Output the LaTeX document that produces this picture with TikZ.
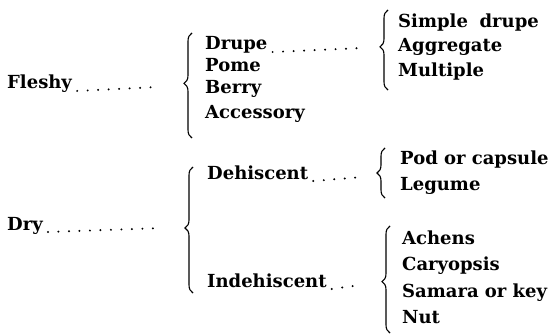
\documentclass[tikz,border=0pt]{standalone}
\usepackage{fontspec}
\setmainfont{DejaVu Serif}
\usetikzlibrary{decorations.pathreplacing}
\begin{document}
\begin{tikzpicture}[x=1pt,y=-1pt,
  lbl/.style={anchor=base west,inner sep=0pt,font=\fontsize{18}{22}\selectfont\bfseries},
  leader/.style={line width=2.2pt,line cap=round,dash pattern=on 0pt off 10.5pt},
  brc/.style={line width=1.1pt,decorate,decoration={brace,amplitude=8pt,aspect=#1}},
  brc/.default=0.5]
\useasboundingbox (0,0) rectangle (551,334);
% level 1
\node[lbl] (fleshy) at (7,89) {Fleshy};
\node[lbl] (dry) at (7,230) {Dry};
% level 2
\node[lbl] (drupe) at (205,50) {Drupe};
\node[lbl] (pome) at (205,72) {Pome};
\node[lbl] (berry) at (205,94) {Berry};
\node[lbl] (accessory) at (205,119) {Accessory};
\node[lbl] (dehiscent) at (207,179) {Dehiscent};
\node[lbl] (indehiscent) at (207,287) {Indehiscent};
% level 3
\node[lbl] (simple) at (398,28) {Simple\hspace{0.3em} drupe};
\node[lbl] (aggregate) at (398,52) {Aggregate};
\node[lbl] (multiple) at (398,77) {Multiple};
\node[lbl] (pod) at (400,164) {Pod or capsule};
\node[lbl] (legume) at (400,190) {Legume};
\node[lbl] (achens) at (402,244) {Achens};
\node[lbl] (caryopsis) at (402,270) {Caryopsis};
\node[lbl] (samara) at (402,297) {Samara or key};
\node[lbl] (nut) at (402,323) {Nut};
% leader ends
\coordinate (fleshyE) at (157,87);
\coordinate (dryE) at (163,228);
\coordinate (drupeE) at (362,48);
\coordinate (dehiscentE) at (363,177);
\coordinate (indehiscentE) at (360,285);
\draw[leader] ([xshift=5pt,yshift=-2pt]fleshy.base east) -- (fleshyE);
\draw[leader] ([xshift=5pt,yshift=-2pt]dry.base east) -- (dryE);
\draw[leader] ([xshift=5pt,yshift=-2pt]drupe.base east) -- (drupeE);
\draw[leader] ([xshift=5pt,yshift=-2pt]dehiscent.base east) -- (dehiscentE);
\draw[leader] ([xshift=5pt,yshift=-2pt]indehiscent.base east) -- (indehiscentE);
% braces
\coordinate (bAt) at (192,33);   \coordinate (bAb) at (192,138);
\coordinate (bBt) at (193,167);  \coordinate (bBb) at (193,293);
\coordinate (bCt) at (388,10);   \coordinate (bCb) at (388,90);
\coordinate (bDt) at (385,148);  \coordinate (bDb) at (385,198);
\coordinate (bEt) at (390,226);  \coordinate (bEb) at (390,333);
\draw[brc=0.52] (bAb) -- (bAt);
\draw[brc=0.516] (bBb) -- (bBt);
\draw[brc=0.54] (bCb) -- (bCt);
\draw[brc=0.5] (bDb) -- (bDt);
\draw[brc=0.48] (bEb) -- (bEt);
\end{tikzpicture}
\end{document}
